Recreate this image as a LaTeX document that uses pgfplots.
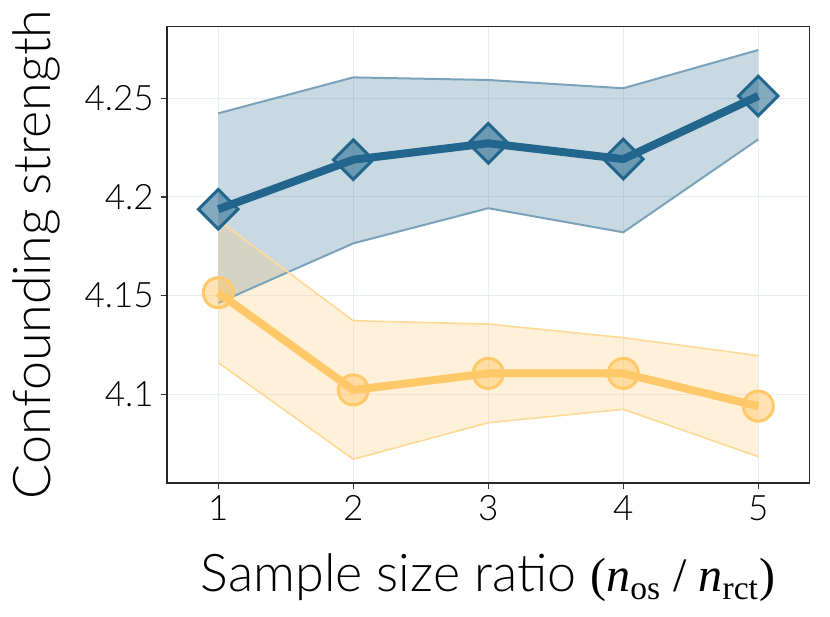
\documentclass[border=0pt]{standalone}
\usepackage{pgfplots}
\pgfplotsset{compat=1.18}
\usepgfplotslibrary{fillbetween}
\usepackage{fontspec}
\setmainfont{Lato Light}
\newfontfamily\serif{Liberation Serif}
\definecolor{cblue}{RGB}{34,102,141}
\definecolor{corange}{RGB}{255,200,105}
\definecolor{gridc}{RGB}{232,238,246}
\begin{document}
\begin{tikzpicture}
\begin{axis}[
  scale only axis, width=321.3pt, height=228pt,
  xmin=0.618, xmax=5.378, ymin=4.0552, ymax=4.2863,
  xtick={1,2,3,4,5}, xticklabels={1,2,3,4,5},
  ytick={4.1,4.15,4.2,4.25}, yticklabels={4.1,4.15,4.2,4.25},
  tick align=outside, major tick length=3pt,
  xtick pos=bottom, ytick pos=left,
  tick style={black!80, line width=0.6pt},
  grid=major, grid style={gridc, line width=0.5pt},
  axis line style={black!85, line width=0.8pt},
  ticklabel style={font=\fontsize{17.5}{20}\selectfont},
  xlabel={Sample size ratio {\serif\fontsize{24}{28}\selectfont(\textit{n}\textsubscript{os} / \textit{n}\textsubscript{rct})}},
  ylabel={Confounding strength},
  label style={font=\fontsize{26}{30}\selectfont},
  xlabel style={at={(axis description cs:0.5,-0.239)}, anchor=base},
  ylabel style={at={(axis description cs:-0.1816,0.5)}, anchor=base},
  clip=false,
]
% blue band
\addplot[name path=bu, draw=cblue!60, line width=1pt] coordinates {(1,4.2424) (2,4.2606) (3,4.2593) (4,4.2551) (5,4.2745)};
\addplot[name path=bl, draw=cblue!60, line width=1pt] coordinates {(1,4.1463) (2,4.1765) (3,4.1943) (4,4.1821) (5,4.2292)};
\addplot[fill=cblue, fill opacity=0.25, draw=none] fill between[of=bu and bl];
% orange band
\addplot[name path=ou, draw=corange!70, line width=0.8pt] coordinates {(1,4.1883) (2,4.1373) (3,4.1356) (4,4.1287) (5,4.1196)};
\addplot[name path=ol, draw=corange!70, line width=0.8pt] coordinates {(1,4.1160) (2,4.0671) (3,4.0856) (4,4.0924) (5,4.0684)};
\addplot[fill=corange, fill opacity=0.25, draw=none] fill between[of=ou and ol];
% lines
\addplot[cblue, line width=4pt, mark=square*, mark size=7pt,
  mark options={rotate=45, fill=cblue, fill opacity=0.55, draw=cblue, draw opacity=1, line width=1.5pt}]
  coordinates {(1,4.1938) (2,4.2189) (3,4.2272) (4,4.2192) (5,4.2512)};
\addplot[corange, line width=4pt, mark=*, mark size=7.5pt,
  mark options={fill=corange, fill opacity=0.5, draw=corange, line width=1.5pt}]
  coordinates {(1,4.1515) (2,4.1022) (3,4.1106) (4,4.1106) (5,4.0940)};
\end{axis}
\pgfresetboundingbox
\useasboundingbox (-83.35pt,-66.65pt) rectangle (331.65pt,241.35pt);
\end{tikzpicture}
\end{document}
